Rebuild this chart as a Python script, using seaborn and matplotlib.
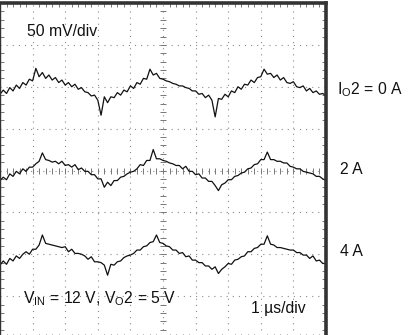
import numpy as np
import pandas as pd
import matplotlib
matplotlib.use("Agg")
import matplotlib.pyplot as plt
import seaborn as sns

# time axis (µs, 1 µs/div) and ripple traces (mV, relative to each trace's baseline)
t_us = np.round(np.arange(0, 10.001, 0.1), 2)

load_labels = ["0 A", "2 A", "4 A"]
baselines_mv = [100, 0, -100]

ripple_0A = [-9, -4, -8, -1, -5, 2, -2, 5, 2, 9,
             7, 22, 12, 17, 10, 14, 8, 11, 5, 8,
             2, 5, 0, 3, -3, -1, -6, -7, -11, -10,
             -16, -34, -12, -19, -12, -13, -7, -10, -4, -6,
             1, -2, 5, 3, 10, 9, 21, 14, 16, 10,
             9, 7, 6, 4, 3, 1, 1, -1, -2, -5,
             -5, -9, -8, -13, -10, -16, -36, -14, -15, -9,
             -12, -5, -7, 0, -3, 3, 2, 8, 5, 11,
             12, 21, 15, 16, 11, 14, 8, 11, 5, 4,
             6, 0, -1, 1, -5, -2, -7, -5, -9, -8,
             -11]

ripple_2A = [-12, -8, -11, -4, -7, -1, -4, 2, -1, 4,
             4, 8, 11, 21, 13, 12, 10, 11, 8, 11,
             6, 7, 4, 7, 1, 3, -1, -1, -5, -5,
             -10, -10, -20, -14, -18, -12, -12, -8, -7, -4,
             -2, -1, 2, 7, 6, 12, 12, 25, 14, 14,
             12, 11, 9, 8, 6, 6, 2, 5, -1, -1,
             -5, -4, -9, -9, -13, -13, -18, -24, -17, -15,
             -11, -11, -7, -6, -3, -2, 2, 3, 7, 8,
             13, 13, 22, 13, 13, 11, 11, 9, 9, 5,
             4, 2, 2, -1, -2, -3, -4, -7, -7, -10,
             -12]

ripple_4A = [-13, -8, -12, -5, -8, -2, -5, 0, 3, 0,
             6, 6, 11, 23, 13, 12, 11, 10, 9, 8,
             9, 3, 6, 1, 1, 0, -2, -6, -3, -9,
             -9, -10, -13, -25, -12, -13, -9, -8, -4, -2,
             -1, 1, 5, 5, 9, 10, 14, 15, 23, 14,
             13, 10, 9, 5, 5, 1, 2, -3, -2, -7,
             -7, -10, -10, -14, -14, -18, -15, -23, -18, -15,
             -11, -12, -7, -6, -3, -2, 3, 3, 7, 8,
             12, 12, 22, 12, 11, 8, 8, 7, 6, 5,
             5, 2, 2, -1, -1, -5, -2, -8, -7, -11,
             -11]

ripples = [ripple_0A, ripple_2A, ripple_4A]
frames = []
for lab, base, r in zip(load_labels, baselines_mv, ripples):
    frames.append(pd.DataFrame({"t": t_us, "v": np.array(r) + base, "load": lab}))
df = pd.concat(frames, ignore_index=True)

sns.set_style("white")
plt.rcParams["font.family"] = ["Liberation Sans", "DejaVu Sans"]
plt.rcParams["mathtext.fontset"] = "custom"
plt.rcParams["mathtext.rm"] = "Liberation Sans"

W, H = 412, 335
fig = plt.figure(figsize=(W / 100, H / 100), dpi=100)
ax = fig.add_axes([0.0, -3 / H, 326 / W, 335 / H])

sns.lineplot(data=df, x="t", y="v", hue="load", units="load", estimator=None,
             sort=False, palette={k: "#111111" for k in load_labels},
             linewidth=0.9, legend=False, ax=ax)

ax.set_xlim(0, 10)
ax.set_ylim(-200, 200)
ax.set_xticks(np.arange(0, 11, 1))
ax.set_yticks(np.arange(-200, 201, 50))
ax.set_xticks(np.arange(0, 10.01, 0.2), minor=True)
ax.set_yticks(np.arange(-200, 200.1, 10), minor=True)
ax.tick_params(which="both", direction="in", top=True, right=True, left=True,
               bottom=True, labelleft=False, labelbottom=False, color="#777777")
ax.tick_params(which="major", length=0)
ax.tick_params(which="minor", length=3, width=0.7)
ax.set_xlabel("")
ax.set_ylabel("")
ax.grid(True, which="major", color="#8a8a8a", linestyle=(0, (1, 4.5)), linewidth=0.8)

# center cross ticks
cx = np.arange(0, 10.01, 0.2)
cy = np.arange(-200, 200.1, 10)
ax.scatter(cx, np.zeros_like(cx), marker="|", s=18, color="#777777", linewidths=0.7, zorder=1)
ax.scatter(np.full_like(cy, 5.0), cy, marker="_", s=18, color="#777777", linewidths=0.7, zorder=1)

for side in ["top", "right"]:
    ax.spines[side].set_linewidth(2.6)
    ax.spines[side].set_color("#333333")
for side in ["left", "bottom"]:
    ax.spines[side].set_linewidth(1.0)
    ax.spines[side].set_color("#333333")

def ftext(x, y, s, **kw):
    fig.text(x / W, 1 - y / H, s, va="center", ha="left", fontsize=11.3, color="#111111", **kw)

ftext(27, 31, "50 mV/div")
ftext(337, 90, r"I$_\mathrm{O}$2 = 0 A")
ftext(340, 169, "2 A")
ftext(340, 252, "4 A")
ftext(23, 299, r"V$_\mathrm{IN}$ = 12 V, V$_\mathrm{O}$2 = 5 V")
ftext(251, 309, "1 \u00b5s/div")

fig.savefig("out.png", dpi=100)
